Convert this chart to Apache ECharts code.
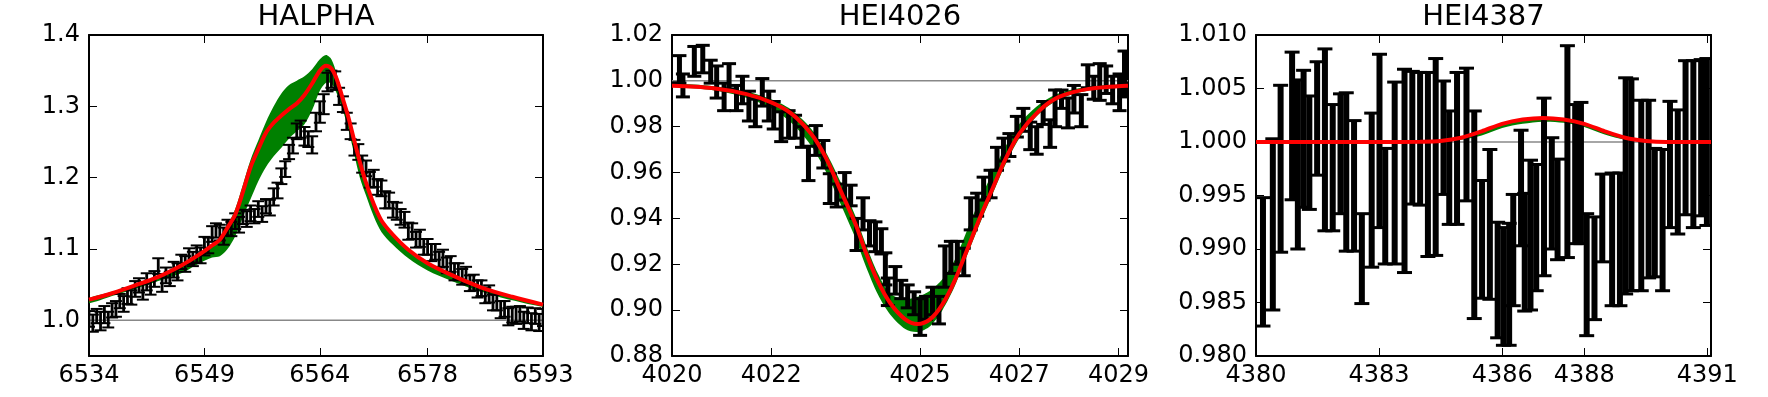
<!DOCTYPE html>
<html>
<head>
<meta charset="utf-8">
<script src="https://cdn.jsdelivr.net/npm/echarts@6.0.0/dist/echarts.min.js"></script>
<style>
  html, body { margin: 0; padding: 0; background: #fff; }
  #chart { width: 1768px; height: 397px; }
</style>
</head>
<body>
<div id="chart"></div>
<script>
// ---------- HALPHA ----------
const haRange = [6534, 6593];
const haYRange = [0.95, 1.4];
const haXTicks = [6534, 6549, 6564, 6578, 6593];
const haYTicks = [1.0, 1.1, 1.2, 1.3, 1.4];
const haWave = [
  6534, 6534.5, 6535, 6535.5, 6536, 6536.5, 6537, 6537.5, 6538, 6538.5,
  6539, 6539.5, 6540, 6540.5, 6541, 6541.5, 6542, 6542.5, 6543, 6543.5,
  6544, 6544.5, 6545, 6545.5, 6546, 6546.5, 6547, 6547.5, 6548, 6548.5,
  6549, 6549.5, 6550, 6550.5, 6551, 6551.5, 6552, 6552.5, 6553, 6553.5,
  6554, 6554.5, 6555, 6555.5, 6556, 6556.5, 6557, 6557.5, 6558, 6558.5,
  6559, 6559.5, 6560, 6560.5, 6561, 6561.5, 6562, 6562.5, 6563, 6563.5,
  6564, 6564.5, 6565, 6565.5, 6566, 6566.5, 6567, 6567.5, 6568, 6568.5,
  6569, 6569.5, 6570, 6570.5, 6571, 6571.5, 6572, 6572.5, 6573, 6573.5,
  6574, 6574.5, 6575, 6575.5, 6576, 6576.5, 6577, 6577.5, 6578, 6578.5,
  6579, 6579.5, 6580, 6580.5, 6581, 6581.5, 6582, 6582.5, 6583, 6583.5,
  6584, 6584.5, 6585, 6585.5, 6586, 6586.5, 6587, 6587.5, 6588, 6588.5,
  6589, 6589.5, 6590, 6590.5, 6591, 6591.5, 6592, 6592.5, 6593
];
const haFlux = [
  1.002, 0.996, 1.006, 0.999, 1.008, 1.001, 1.014, 1.016, 1.027, 1.023,
  1.034, 1.032, 1.044, 1.049, 1.040, 1.054, 1.046, 1.058, 1.076, 1.050,
  1.063, 1.058, 1.071, 1.068, 1.082, 1.079, 1.090, 1.086, 1.093, 1.091,
  1.104, 1.105, 1.121, 1.126, 1.123, 1.118, 1.130, 1.128, 1.139, 1.134,
  1.145, 1.142, 1.150, 1.146, 1.156, 1.149, 1.160, 1.158, 1.173, 1.182,
  1.202, 1.212, 1.236, 1.245, 1.265, 1.268, 1.258, 1.254, 1.246, 1.278,
  1.292, 1.303, 1.334, 1.338, 1.336, 1.314, 1.303, 1.279, 1.265, 1.242,
  1.236, 1.219, 1.213, 1.197, 1.199, 1.187, 1.185, 1.169, 1.168, 1.155,
  1.153, 1.145, 1.141, 1.125, 1.125, 1.113, 1.115, 1.103, 1.103, 1.095,
  1.096, 1.085, 1.087, 1.077, 1.079, 1.068, 1.069, 1.061, 1.063, 1.052,
  1.053, 1.044, 1.045, 1.035, 1.037, 1.025, 1.025, 1.015, 1.016, 1.005,
  1.008, 1.007, 1.009, 1.000, 1.007, 0.998, 1.006, 0.997, 1.004
];
const haErr = [
  0.011, 0.012, 0.010, 0.013, 0.012, 0.011, 0.010, 0.011, 0.010, 0.011,
  0.011, 0.010, 0.011, 0.010, 0.011, 0.012, 0.010, 0.011, 0.011, 0.010,
  0.011, 0.010, 0.011, 0.012, 0.010, 0.011, 0.011, 0.010, 0.012, 0.011,
  0.013, 0.011, 0.011, 0.010, 0.011, 0.012, 0.011, 0.010, 0.011, 0.011,
  0.010, 0.011, 0.011, 0.010, 0.011, 0.011, 0.010, 0.011, 0.012, 0.011,
  0.011, 0.011, 0.010, 0.011, 0.011, 0.012, 0.013, 0.011, 0.012, 0.013,
  0.015, 0.014, 0.013, 0.012, 0.013, 0.012, 0.011, 0.012, 0.011, 0.011,
  0.011, 0.012, 0.011, 0.011, 0.012, 0.011, 0.011, 0.012, 0.011, 0.011,
  0.012, 0.011, 0.011, 0.012, 0.011, 0.011, 0.012, 0.011, 0.011, 0.012,
  0.011, 0.011, 0.012, 0.011, 0.011, 0.012, 0.011, 0.011, 0.012, 0.011,
  0.011, 0.012, 0.011, 0.011, 0.012, 0.011, 0.011, 0.012, 0.011, 0.012,
  0.011, 0.012, 0.011, 0.012, 0.011, 0.012, 0.011, 0.012, 0.012
];
const haModelWave = [
  6534, 6537, 6540, 6543, 6546, 6548, 6550, 6551, 6552, 6553,
  6554, 6555, 6556, 6557, 6558, 6559, 6560, 6561, 6562, 6563,
  6564, 6564.8, 6565.5, 6566.2, 6567, 6567.7, 6568.4, 6569.2, 6570, 6571,
  6572, 6573.5, 6575.5, 6578, 6581, 6585, 6589, 6593
];
const haFit = [
  1.029, 1.038, 1.049, 1.061, 1.077, 1.090, 1.105, 1.113, 1.130, 1.148,
  1.180, 1.215, 1.240, 1.263, 1.277, 1.287, 1.296, 1.304, 1.316, 1.332,
  1.350, 1.357, 1.353, 1.338, 1.310, 1.285, 1.255, 1.222, 1.193, 1.163,
  1.140, 1.120, 1.099, 1.080, 1.064, 1.046, 1.033, 1.022
];
const haHi = [
  1.031, 1.040, 1.051, 1.062, 1.078, 1.091, 1.106, 1.115, 1.133, 1.156,
  1.190, 1.225, 1.252, 1.278, 1.300, 1.318, 1.330, 1.336, 1.342, 1.352,
  1.366, 1.372, 1.366, 1.345, 1.314, 1.289, 1.258, 1.224, 1.197, 1.164,
  1.141, 1.121, 1.100, 1.081, 1.065, 1.047, 1.034, 1.023
];
const haLo = [
  1.024, 1.034, 1.044, 1.055, 1.066, 1.078, 1.088, 1.090, 1.100, 1.118,
  1.145, 1.170, 1.195, 1.215, 1.230, 1.242, 1.255, 1.265, 1.275, 1.295,
  1.322, 1.333, 1.332, 1.318, 1.294, 1.268, 1.236, 1.200, 1.175, 1.146,
  1.124, 1.106, 1.087, 1.070, 1.056, 1.040, 1.028, 1.019
];

// ---------- HEI4026 ----------
const he26Range = [4020, 4029.19];
const he26YRange = [0.88, 1.02];
const he26XTicks = [4020, 4022, 4025, 4027, 4029];
const he26YTicks = [0.88, 0.90, 0.92, 0.94, 0.96, 0.98, 1.00, 1.02];
const he26Wave = [
  4020.15, 4020.22, 4020.45, 4020.62, 4020.78, 4020.90,
  4021.05, 4021.15, 4021.30, 4021.42, 4021.55, 4021.68, 4021.82, 4021.95,
  4022.05, 4022.20, 4022.35, 4022.48, 4022.62, 4022.75, 4022.90,
  4023.05, 4023.18, 4023.32, 4023.48, 4023.60, 4023.72, 4023.85, 4023.98,
  4024.10, 4024.22, 4024.30, 4024.35, 4024.50, 4024.62, 4024.75, 4024.88,
  4025.00, 4025.12, 4025.25, 4025.38, 4025.50, 4025.62, 4025.75, 4025.88,
  4026.02, 4026.15, 4026.28, 4026.42, 4026.55, 4026.68, 4026.80, 4026.95,
  4027.08, 4027.22, 4027.35, 4027.48, 4027.62, 4027.72, 4027.85, 4027.98,
  4028.10, 4028.25, 4028.38, 4028.50, 4028.62, 4028.75, 4028.88,
  4029.02, 4029.12
];
const he26Flux = [
  1.0050, 0.9980, 1.0085, 1.0095, 1.0040, 0.9995,
  0.9930, 1.0020, 0.9925, 0.9960, 0.9890, 0.9860, 0.9950, 0.9890,
  0.9850, 0.9800, 0.9810, 0.9800, 0.9755, 0.9640, 0.9740,
  0.9680, 0.9530, 0.9500, 0.9540, 0.9500, 0.9330, 0.9420, 0.9335,
  0.9320, 0.9300, 0.9180, 0.9080, 0.9130, 0.9090, 0.9060, 0.9030,
  0.8970, 0.9010, 0.9040, 0.9000, 0.9190, 0.9230, 0.9250, 0.9210,
  0.9420, 0.9460, 0.9530, 0.9550, 0.9660, 0.9700, 0.9720, 0.9800,
  0.9830, 0.9760, 0.9740, 0.9860, 0.9770, 0.9880, 0.9920, 0.9860,
  0.9920, 0.9870, 1.0020, 0.9970, 0.9995, 1.0005, 0.9960,
  0.9950, 1.0030
];
const he26Err = [
  0.0060, 0.0050, 0.0065, 0.0060, 0.0050, 0.0070,
  0.0060, 0.0055, 0.0055, 0.0060, 0.0065, 0.0060, 0.0060, 0.0065,
  0.0060, 0.0065, 0.0060, 0.0050, 0.0045, 0.0075, 0.0065,
  0.0060, 0.0065, 0.0050, 0.0060, 0.0045, 0.0070, 0.0070, 0.0055,
  0.0065, 0.0055, 0.0070, 0.0060, 0.0060, 0.0040, 0.0050, 0.0050,
  0.0080, 0.0050, 0.0060, 0.0060, 0.0090, 0.0070, 0.0050, 0.0060,
  0.0070, 0.0050, 0.0050, 0.0060, 0.0050, 0.0050, 0.0050, 0.0045,
  0.0050, 0.0060, 0.0060, 0.0050, 0.0060, 0.0080, 0.0040, 0.0065,
  0.0060, 0.0070, 0.0050, 0.0050, 0.0080, 0.0060, 0.0060,
  0.0080, 0.0100
];
const he26ModelWave = [
  4020, 4020.8, 4021.5, 4022, 4022.4, 4022.8, 4023.1, 4023.4, 4023.7, 4023.9,
  4024.15, 4024.4, 4024.7, 4024.95, 4025.2, 4025.45, 4025.7, 4025.95, 4026.2, 4026.45,
  4026.7, 4027, 4027.4, 4027.8, 4028.4, 4029.19
];
const he26Fit = [
  0.9979, 0.9969, 0.9942, 0.9906, 0.9858, 0.9770, 0.9665, 0.9520, 0.9375, 0.9255,
  0.9125, 0.9030, 0.8960, 0.8940, 0.8960, 0.9025, 0.9130, 0.9265, 0.9400, 0.9525,
  0.9650, 0.9770, 0.9870, 0.9930, 0.9965, 0.9979
];
const he26Hi = [
  0.9986, 0.9978, 0.9954, 0.9920, 0.9875, 0.9792, 0.9690, 0.9558, 0.9408, 0.9290,
  0.9160, 0.9072, 0.9048, 0.9058, 0.9085, 0.9135, 0.9220, 0.9350, 0.9480, 0.9595,
  0.9705, 0.9812, 0.9897, 0.9946, 0.9974, 0.9985
];
const he26Lo = [
  0.9974, 0.9960, 0.9926, 0.9880, 0.9818, 0.9718, 0.9605, 0.9462, 0.9312, 0.9195,
  0.9068, 0.8980, 0.8918, 0.8905, 0.8930, 0.9000, 0.9105, 0.9240, 0.9375, 0.9500,
  0.9625, 0.9750, 0.9856, 0.9920, 0.9958, 0.9974
];

// ---------- HEI4387 ----------
const he87Range = [4380, 4391.09];
const he87YRange = [0.98, 1.01];
const he87XTicks = [4380, 4383, 4386, 4388, 4391];
const he87YTicks = [0.980, 0.985, 0.990, 0.995, 1.000, 1.005, 1.010];
const he87Wave = [
  4380.17, 4380.41, 4380.60, 4380.88, 4381.02, 4381.16, 4381.30, 4381.49, 4381.68, 4381.87,
  4382.06, 4382.20, 4382.39, 4382.58, 4382.82, 4383.01, 4383.15, 4383.38, 4383.62, 4383.81,
  4384.00, 4384.19, 4384.38, 4384.57, 4384.71, 4384.90, 4385.13, 4385.32, 4385.51, 4385.70,
  4385.89, 4386.03, 4386.17, 4386.27, 4386.46, 4386.55, 4386.69, 4386.83, 4387.02, 4387.21,
  4387.35, 4387.59, 4387.78, 4387.92, 4388.06, 4388.25, 4388.44, 4388.68, 4388.87, 4389.01,
  4389.15, 4389.39, 4389.57, 4389.72, 4389.91, 4390.09, 4390.28, 4390.47, 4390.66, 4390.85,
  4390.99
];
const he87Flux = [
  0.9888, 0.9923, 0.9975, 1.0015, 0.9979, 1.0003, 0.9990, 1.0022, 1.0002, 0.9976,
  0.9989, 0.9972, 0.9959, 0.9891, 0.9955, 1.0001, 0.9940, 0.9971, 0.9973, 1.0004,
  1.0003, 0.9979, 0.9986, 1.0004, 0.9976, 0.9994, 1.0007, 0.9932, 0.9909, 0.9923,
  0.9871, 0.9865, 0.9867, 0.9899, 0.9957, 0.9897, 0.9913, 0.9920, 0.9958, 0.9952,
  0.9937, 0.9991, 0.9970, 0.9971, 0.9876, 0.9882, 0.9929, 0.9909, 0.9909, 0.9959,
  0.9960, 0.9950, 0.9956, 0.9934, 0.9927, 0.9979, 0.9972, 1.0004, 0.9998, 1.0004,
  1.0000
];
const he87Err = [
  0.0060, 0.0080, 0.0078, 0.0069, 0.0079, 0.0064, 0.0053, 0.0053, 0.0085, 0.0059,
  0.0056, 0.0074, 0.0061, 0.0042, 0.0072, 0.0081, 0.0054, 0.0085, 0.0095, 0.0062,
  0.0062, 0.0086, 0.0092, 0.0053, 0.0053, 0.0071, 0.0062, 0.0097, 0.0055, 0.0070,
  0.0054, 0.0055, 0.0057, 0.0052, 0.0054, 0.0055, 0.0070, 0.0059, 0.0083, 0.0052,
  0.0047, 0.0099, 0.0065, 0.0066, 0.0057, 0.0048, 0.0041, 0.0062, 0.0062, 0.0101,
  0.0099, 0.0089, 0.0083, 0.0060, 0.0066, 0.0059, 0.0058, 0.0072, 0.0078, 0.0073,
  0.0078
];
const he87ModelWave = [4380, 4383, 4384, 4384.5, 4385, 4385.5, 4386, 4386.5, 4387, 4387.5, 4388, 4388.5, 4389, 4389.5, 4390, 4391.09];
const he87Fit = [1.0000, 1.0000, 1.00003, 1.0001, 1.0004, 1.0010, 1.0017, 1.0021, 1.00225, 1.0021, 1.0017, 1.0010, 1.0004, 1.0001, 1.0000, 1.0000];
const he87Hi  = [1.0000, 1.0000, 1.00003, 1.0001, 1.0004, 1.0010, 1.0017, 1.0021, 1.00225, 1.0021, 1.0017, 1.0010, 1.0004, 1.0001, 1.0000, 1.0000];
const he87Lo  = [1.0000, 1.0000, 0.99999, 1.00002, 1.0002, 1.0006, 1.0013, 1.0017, 1.0019, 1.0018, 1.0014, 1.0007, 1.0002, 1.0000, 1.0000, 1.0000];

const continuumLevel = 1.0;

// ---------- layout / build ----------
const FONT = 'DejaVu Sans';
const TOP = 35, HEIGHT = 321;
const LAYOUT = [
  { left: 89, width: 454 },
  { left: 672, width: 456 },
  { left: 1256, width: 455 }
];

const panels = [
  { title: 'HALPHA', xr: haRange, yr: haYRange, xt: haXTicks, yt: haYTicks, yd: 1,
    x: haWave, y: haFlux, e: haErr, mx: haModelWave, fit: haFit, hi: haHi, lo: haLo, stem: 2.8, cap: 12, capW: 2 },
  { title: 'HEI4026', xr: he26Range, yr: he26YRange, xt: he26XTicks, yt: he26YTicks, yd: 2,
    x: he26Wave, y: he26Flux, e: he26Err, mx: he26ModelWave, fit: he26Fit, hi: he26Hi, lo: he26Lo, stem: 5, cap: 14, capW: 3 },
  { title: 'HEI4387', xr: he87Range, yr: he87YRange, xt: he87XTicks, yt: he87YTicks, yd: 3,
    x: he87Wave, y: he87Flux, e: he87Err, mx: he87ModelWave, fit: he87Fit, hi: he87Hi, lo: he87Lo, stem: 6, cap: 15, capW: 3 }
];

// vertical error bar with caps
function errorBar(stem, cap, capW) {
  return function (params, api) {
    const x = api.value(0), y = api.value(1), e = api.value(2);
    const a = api.coord([x, y + e]);
    const b = api.coord([x, y - e]);
    const cs = { stroke: '#000', lineWidth: capW };
    return {
      type: 'group',
      children: [
        { type: 'line', shape: { x1: a[0], y1: a[1], x2: b[0], y2: b[1] }, style: { stroke: '#000', lineWidth: stem } },
        { type: 'line', shape: { x1: a[0] - cap / 2, y1: a[1], x2: a[0] + cap / 2, y2: a[1] }, style: cs },
        { type: 'line', shape: { x1: b[0] - cap / 2, y1: b[1], x2: b[0] + cap / 2, y2: b[1] }, style: cs }
      ]
    };
  };
}

// filled band between lo and hi, one polygon
function band(p) {
  return function (params, api) {
    if (params.dataIndex !== 0) return null;
    const top = p.mx.map((x, k) => api.coord([x, p.hi[k]]));
    const bot = p.mx.map((x, k) => api.coord([x, p.lo[k]])).reverse();
    return {
      type: 'polygon',
      shape: { points: top.concat(bot), smooth: 0.3 },
      style: { fill: '#008000', stroke: null }
    };
  };
}

const grid = [], xAxis = [], yAxis = [], series = [], graphic = [];
const axLine = { show: true, onZero: false, lineStyle: { color: '#000', width: 2 } };
const tick = vals => ({ show: true, inside: true, length: 8, customValues: vals, lineStyle: { color: '#000', width: 1 } });
const lab = { fontFamily: FONT, fontSize: 24, color: '#000' };

panels.forEach((p, i) => {
  const L = LAYOUT[i];
  grid.push({ left: L.left, top: TOP, width: L.width, height: HEIGHT, containLabel: false, outerBoundsMode: 'none' });

  const xb = { type: 'value', gridIndex: i, min: p.xr[0], max: p.xr[1], axisLine: axLine, axisTick: tick(p.xt), splitLine: { show: false } };
  xAxis.push(
    Object.assign({}, xb, { position: 'bottom', axisLabel: Object.assign({}, lab, { margin: 8, customValues: p.xt, formatter: v => v.toFixed(0) }) }),
    Object.assign({}, xb, { position: 'top', axisLabel: { show: false } })
  );
  const yb = { type: 'value', gridIndex: i, min: p.yr[0], max: p.yr[1], axisLine: axLine, axisTick: tick(p.yt), splitLine: { show: false } };
  yAxis.push(
    Object.assign({}, yb, { position: 'left', axisLabel: Object.assign({}, lab, { margin: 9, customValues: p.yt, formatter: v => v.toFixed(p.yd) }) }),
    Object.assign({}, yb, { position: 'right', axisLabel: { show: false } })
  );

  const ax = { xAxisIndex: 2 * i, yAxisIndex: 2 * i, silent: true };

  // continuum reference line
  series.push(Object.assign({}, ax, {
    type: 'line', z: 1, symbol: 'none',
    data: [[p.xr[0], continuumLevel], [p.xr[1], continuumLevel]],
    lineStyle: { color: '#888', width: 1.5 }
  }));
  // green model spread
  series.push(Object.assign({}, ax, {
    type: 'custom', z: 2, clip: true,
    renderItem: band(p),
    data: [[p.mx[0], p.fit[0]]]
  }));
  // observed data with error bars
  series.push(Object.assign({}, ax, {
    type: 'custom', z: 3, clip: true,
    renderItem: errorBar(p.stem, p.cap, p.capW),
    data: p.x.map((x, k) => [x, p.y[k], p.e[k]])
  }));
  // best fit
  series.push(Object.assign({}, ax, {
    type: 'line', z: 4, symbol: 'none', smooth: 0.3,
    data: p.mx.map((x, k) => [x, p.fit[k]]),
    lineStyle: { color: '#ff0000', width: 4 }
  }));

  graphic.push({
    type: 'text', x: L.left + L.width / 2, y: 17,
    style: {
      text: p.title, fill: '#000', fontFamily: FONT, fontSize: 29,
      font: '29px "DejaVu Sans"',
      align: 'center', verticalAlign: 'middle', textAlign: 'center', textVerticalAlign: 'middle'
    }
  });
});

const chart = echarts.init(document.getElementById('chart'), null, { renderer: 'canvas' });
chart.setOption({
  animation: false,
  backgroundColor: '#fff',
  grid, xAxis, yAxis, series, graphic
});
</script>
</body>
</html>
